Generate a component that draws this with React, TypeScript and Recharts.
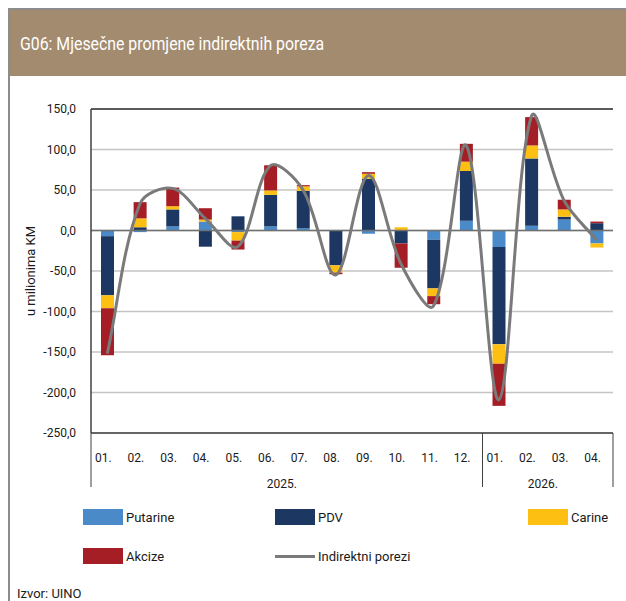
import React from 'react';
import {
  ComposedChart,
  Bar,
  Line,
  XAxis,
  YAxis,
  CartesianGrid,
  ReferenceLine,
  Legend,
} from 'recharts';

// ---------- data ----------
const months = ['01.', '02.', '03.', '04.', '05.', '06.', '07.', '08.', '09.', '10.', '11.', '12.', '01.', '02.', '03.', '04.'];
const years = ['2025.', '2025.', '2025.', '2025.', '2025.', '2025.', '2025.', '2025.', '2025.', '2025.', '2025.', '2025.', '2026.', '2026.', '2026.', '2026.'];
const putarine = [-7, -2, 5, 11, -2, 5, 3, 0, -4, 0, -11.5, 12, -20.5, 6, 13.5, -16];
const pdv = [-73, 4, 21, -20, 17.5, 39, 46, -43, 64, -16, -60, 61.5, -120, 83, 3.5, 9];
const carine = [-16, 11, 4, 2.5, -10.5, 5.5, 5.5, -9, 6, 4, -9.5, 11.5, -24, 16, 9, -5];
const akcize = [-58, 20, 23, 14, -11, 31, 1.5, -2, 2, -30, -10, 22, -52, 35, 12, 2];
const indirektni = [-152, 33, 52, 15, -20, 80, 50, -55, 68, -41, -93, 105, -209, 141, 37, -12];
const yTicks = [150, 100, 50, 0, -50, -100, -150, -200, -250];

const data = months.map((m, i) => ({
  key: years[i] + m,
  putarine: putarine[i],
  pdv: pdv[i],
  carine: carine[i],
  akcize: akcize[i],
  indirektni: indirektni[i],
}));

// ---------- styles ----------
const COLORS: Record<string, string> = {
  putarine: '#4A8AC8',
  pdv: '#1C3762',
  carine: '#FCBF12',
  akcize: '#A51D25',
  indirektni: '#7A7A7A',
};
const FONT = 'Roboto, "Liberation Sans", sans-serif';
const TEXT = '#1a1a1a';

// Excel-like smoothed line (Bezier with chord-length scaled tangents)
const excelSmooth: any = (context: any) => {
  let pts: number[][] = [];
  const dist = (a: number[], b: number[]) => Math.hypot(a[0] - b[0], a[1] - b[1]);
  return {
    areaStart() {},
    areaEnd() {},
    lineStart() {
      pts = [];
    },
    point(x: number, y: number) {
      pts.push([+x, +y]);
    },
    lineEnd() {
      const n = pts.length;
      if (n === 0) return;
      context.moveTo(pts[0][0], pts[0][1]);
      for (let i = 0; i < n - 1; i++) {
        const p0 = pts[Math.max(i - 1, 0)];
        const p1 = pts[i];
        const p2 = pts[i + 1];
        const p3 = pts[Math.min(i + 2, n - 1)];
        const d01 = dist(p0, p1);
        const d12 = dist(p1, p2);
        const d23 = dist(p2, p3);
        const f1 = d01 + d12 > 0 ? d12 / (d01 + d12) / 3 : 1 / 6;
        const f2 = d12 + d23 > 0 ? d12 / (d12 + d23) / 3 : 1 / 6;
        context.bezierCurveTo(
          p1[0] + (p2[0] - p0[0]) * f1,
          p1[1] + (p2[1] - p0[1]) * f1,
          p2[0] - (p3[0] - p1[0]) * f2,
          p2[1] - (p3[1] - p1[1]) * f2,
          p2[0],
          p2[1]
        );
      }
    },
  };
};

function MonthTick(props: any) {
  const { x, y, payload } = props;
  const i: number = props.index ?? payload.index;
  const half: number = payload.offset ?? 16.3;
  const isGroupStart = i === 0 || years[i] !== years[i - 1];
  const isLast = i === months.length - 1;
  let groupLen = 0;
  if (isGroupStart) {
    for (let j = i; j < years.length && years[j] === years[i]; j++) groupLen++;
  }
  return (
    <g>
      <text x={x - 4} y={y + 29} textAnchor="middle" fontSize={12} fill={TEXT} fontFamily={FONT}>
        {months[i]}
      </text>
      {isGroupStart && (
        <line x1={x - half} x2={x - half} y1={y} y2={y + 54} stroke="#404040" strokeWidth={1} />
      )}
      {isLast && <line x1={x + half} x2={x + half} y1={y} y2={y + 54} stroke="#404040" strokeWidth={1} />}
      {isGroupStart && (
        <text
          x={x - half + groupLen * half - 5}
          y={y + 55}
          textAnchor="middle"
          fontSize={12}
          fill={TEXT}
          fontFamily={FONT}
        >
          {years[i]}
        </text>
      )}
    </g>
  );
}

const legendOrder = ['putarine', 'pdv', 'carine', 'akcize', 'indirektni'];
const legendCols = [83, 275, 528];
const legendRows = [517, 556];

function LegendContent(props: any) {
  const payload: any[] = props.payload || [];
  return (
    <div style={{ position: 'relative', width: 626, height: 0 }}>
      {legendOrder.map((k, i) => {
        const item = payload.find((p) => p.dataKey === k);
        if (!item) return null;
        const left = legendCols[i % 3];
        const top = legendRows[Math.floor(i / 3)];
        return (
          <div
            key={k}
            style={{
              position: 'absolute',
              left,
              top: top - 8,
              height: 16,
              display: 'flex',
              alignItems: 'center',
              whiteSpace: 'nowrap',
            }}
          >
            {k === 'indirektni' ? (
              <div style={{ width: 40, height: 3, background: COLORS[k] }} />
            ) : (
              <div style={{ width: 40, height: 16, background: COLORS[k] }} />
            )}
            <span style={{ marginLeft: 3, fontSize: 13, color: TEXT, fontFamily: FONT }}>{item.value}</span>
          </div>
        );
      })}
    </div>
  );
}

function YTitle(props: any) {
  const vb = props.viewBox || { x: 31, y: 109, width: 60, height: 324 };
  const cx = 30;
  const cy = vb.y + vb.height / 2;
  return (
    <text
      x={cx}
      y={cy}
      transform={`rotate(-90 ${cx} ${cy})`}
      textAnchor="middle"
      dominantBaseline="central"
      fontSize={13}
      fill={TEXT}
      fontFamily={FONT}
    >
      u milionima KM
    </text>
  );
}

export default function App() {
  return (
    <div
      style={{
        position: 'absolute',
        left: 0,
        top: 0,
        width: 626,
        height: 601,
        background: '#fff',
        fontFamily: FONT,
        overflow: 'hidden',
      }}
    >
      {/* frame */}
      <div style={{ position: 'absolute', left: 8, top: 8, width: 618, height: 2, background: '#8c8c8c' }} />
      <div style={{ position: 'absolute', left: 8, top: 8, width: 2, height: 593, background: '#8c8c8c' }} />
      {/* title bar */}
      <div
        style={{
          position: 'absolute',
          left: 10,
          top: 10,
          width: 616,
          height: 66,
          background: '#A38B70',
        }}
      />
      <div
        style={{
          position: 'absolute',
          left: 20,
          top: 32,
          color: '#ffffff',
          fontSize: 18,
          lineHeight: '24px',
          fontFamily: FONT,
          whiteSpace: 'nowrap',
          transform: 'scaleX(0.88)',
          transformOrigin: 'left center',
        }}
      >
        G06: Mjesečne promjene indirektnih poreza
      </div>
      <div
        style={{
          position: 'absolute',
          left: 17,
          top: 586,
          color: TEXT,
          fontSize: 13,
          lineHeight: '16px',
          fontFamily: FONT,
          whiteSpace: 'nowrap',
        }}
      >
        Izvor: UINO
      </div>

      <div style={{ position: 'absolute', left: 0, top: 0 }}>
        <ComposedChart
          width={626}
          height={601}
          data={data}
          stackOffset="sign"
          margin={{ top: 109, right: 13, left: 31, bottom: 111 }}
        >
          <CartesianGrid vertical={false} stroke="#C4C4C4" strokeWidth={1.5} />
          <XAxis
            dataKey="key"
            interval={0}
            height={57}
            tickLine={false}
            tickSize={0}
            tickMargin={0}
            axisLine={{ stroke: '#404040', strokeWidth: 1.5 }}
            tick={(p: any) => <MonthTick {...p} />}
          />
          <YAxis
            width={60}
            domain={[-250, 150]}
            ticks={yTicks}
            interval={0}
            allowDataOverflow
            tickLine={false}
            tickSize={0}
            tickMargin={15}
            axisLine={{ stroke: '#404040', strokeWidth: 1.5 }}
            tick={{ fontSize: 12, fill: TEXT, fontFamily: FONT }}
            tickFormatter={(v: number) => v.toFixed(1).replace('.', ',')}
            label={{ content: (p: any) => <YTitle {...p} /> }}
          />
          <YAxis
            yAxisId="r"
            orientation="right"
            width={0}
            domain={[-250, 150]}
            ticks={yTicks}
            tick={false}
            tickLine={false}
            axisLine={{ stroke: '#404040', strokeWidth: 1.5 }}
          />
          <ReferenceLine y={150} stroke="#333333" strokeWidth={1.5} ifOverflow="visible" />
          <ReferenceLine y={0} stroke="#707070" strokeWidth={1.5} />
          <Bar dataKey="putarine" name="Putarine" stackId="s" fill={COLORS.putarine} barSize={13} isAnimationActive={false} />
          <Bar dataKey="pdv" name="PDV" stackId="s" fill={COLORS.pdv} barSize={13} isAnimationActive={false} />
          <Bar dataKey="carine" name="Carine" stackId="s" fill={COLORS.carine} barSize={13} isAnimationActive={false} />
          <Bar dataKey="akcize" name="Akcize" stackId="s" fill={COLORS.akcize} barSize={13} isAnimationActive={false} />
          <Line
            dataKey="indirektni"
            name="Indirektni porezi"
            type={excelSmooth}
            stroke={COLORS.indirektni}
            strokeWidth={3}
            dot={false}
            activeDot={false}
            isAnimationActive={false}
          />
          <Legend
            content={(p: any) => <LegendContent {...p} />}
            wrapperStyle={{ position: 'absolute', left: 0, top: 0, width: 626, height: 0, margin: 0, padding: 0 }}
          />
        </ComposedChart>
      </div>
    </div>
  );
}
